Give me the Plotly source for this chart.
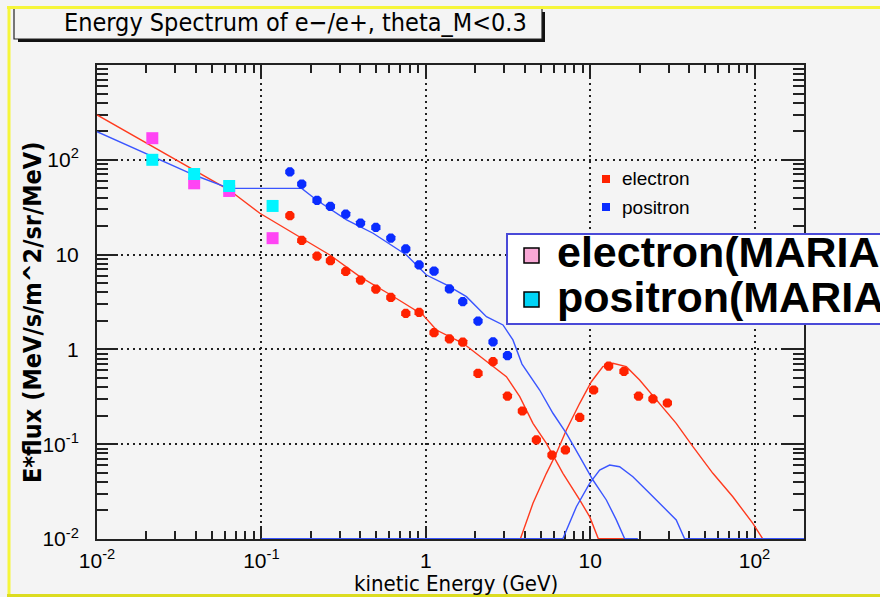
import math
import plotly.graph_objects as go

FLOOR = 0.0101  # curves that drop to zero are drawn along the bottom of the frame

# ---- measured points (kinetic energy in GeV, E*flux) ----
electron_E = [0.149, 0.176, 0.218, 0.263, 0.326, 0.401, 0.497, 0.613, 0.756, 0.911,
              1.123, 1.393, 1.679, 2.079, 2.566, 3.14, 3.87, 4.71, 5.86, 7.07,
              8.64, 10.5, 12.96, 16.06, 19.7, 24.1, 29.5]
electron_F = [25.7, 14.1, 9.62, 8.62, 6.66, 5.37, 4.32, 3.53, 2.40, 2.46,
              1.50, 1.29, 1.19, 0.560, 0.742, 0.322, 0.224, 0.111, 0.0769, 0.0869,
              0.192, 0.373, 0.668, 0.587, 0.322, 0.300, 0.272]

positron_E = [0.149, 0.176, 0.218, 0.263, 0.326, 0.401, 0.497, 0.613, 0.756, 0.911,
              1.123, 1.393, 1.679, 2.079, 2.566, 3.14]
positron_F = [74.7, 55.5, 37.4, 32.2, 26.7, 21.5, 19.4, 14.9, 11.5, 7.77,
              6.71, 4.34, 3.19, 1.99, 1.20, 0.862]

maria_E = [0.0217, 0.039, 0.0637, 0.117]
maria_electron = [169, 56.5, 46.9, 14.9]
maria_positron = [100, 70.8, 52.9, 32.6]

# ---- model curves ----
e_low_E = [0.01, 0.0637, 0.0979, 0.176, 0.261, 0.397, 0.613, 0.963, 1.161, 1.686,
           2.566, 3.095, 3.73, 4.49, 5.42, 6.83, 8.64, 9.93, 11.2, 16.2]
e_low_F = [297, 48.0, 27.3, 14.96, 9.90, 5.85, 3.75, 2.31, 1.60, 1.16,
           0.657, 0.515, 0.317, 0.166, 0.102, 0.0493, 0.0258, 0.0172, FLOOR, FLOOR]

e_high_E = [3.77, 4.49, 5.42, 6.23, 7.17, 8.64, 10.17, 11.96, 13.76, 16.6,
            20.0, 25.3, 33.4, 42.2, 55.8, 73.8, 97.7, 112]
e_high_F = [FLOOR, 0.0238, 0.0493, 0.0802, 0.141, 0.270, 0.456, 0.657, 0.714, 0.657,
            0.476, 0.293, 0.166, 0.0941, 0.0493, 0.0279, 0.0146, FLOOR]

p_low_E = [0.01, 0.0217, 0.039, 0.0637, 0.176, 0.2166, 0.330, 0.478, 0.763, 1.01,
           1.336, 1.768, 2.339, 2.95, 3.39, 3.85, 4.93, 5.94, 7.17, 8.64,
           10.4, 12.55, 14.43, 16.2, 19.5]
p_low_F = [198, 108, 69.1, 50.0, 50.0, 37.7, 23.2, 16.8, 9.90, 6.09,
           4.78, 3.60, 2.21, 1.81, 1.26, 0.70, 0.373, 0.212, 0.130, 0.0738,
           0.0419, 0.0258, 0.0159, FLOOR, FLOOR]

p_high_E = [0.1, 6.83, 8.25, 9.93, 11.42, 13.14, 15.11, 18.2, 21.96, 27.7, 33.4, 37.5, 200]
p_high_F = [FLOOR, FLOOR, 0.0219, 0.0387, 0.0534, 0.0603, 0.0579, 0.0454, 0.0329,
            0.0219, 0.0159, FLOOR, FLOOR]

# ---- axis ticks ----
major_vals = [0.01, 0.1, 1, 10, 100]
major_text = ["10<sup>-2</sup>", "10<sup>-1</sup>", "1", "10", "10<sup>2</sup>"]
x_minor = [k * 10.0 ** e for e in range(-2, 2) for k in range(2, 10)]
y_minor = [k * 10.0 ** e for e in range(-2, 3) for k in range(2, 10)]

RED_M, BLUE_M = "#ff2200", "#0a2cff"
RED_L, BLUE_L = "#ff3a1e", "#3a55ff"
AX = "#222222"
BG = "#f4f4f4"
NARROW = "Liberation Sans Narrow, DejaVu Sans Condensed, Liberation Sans, sans-serif"
SANS = "Liberation Sans, Arial, sans-serif"

W, H = 880, 597
L, R, T, B = 97, 804, 65, 539


def fx(p):
    return (p - L) / (R - L)


def fy(p):
    return (B - p) / (B - T)


fig = go.Figure()
for xs, ys, c in [(e_low_E, e_low_F, RED_L), (e_high_E, e_high_F, RED_L),
                  (p_low_E, p_low_F, BLUE_L), (p_high_E, p_high_F, BLUE_L)]:
    fig.add_trace(go.Scatter(x=xs, y=ys, mode="lines", line=dict(color=c, width=1.4),
                             showlegend=False, hoverinfo="skip"))

fig.add_trace(go.Scatter(x=maria_E, y=maria_electron, mode="markers",
                         marker=dict(symbol="square", size=12, color="#ff44f4"),
                         showlegend=False))
fig.add_trace(go.Scatter(x=maria_E, y=maria_positron, mode="markers",
                         marker=dict(symbol="square", size=12, color="#00f4ff"),
                         showlegend=False))
fig.add_trace(go.Scatter(x=electron_E, y=electron_F, mode="markers",
                         marker=dict(symbol="octagon", size=10, color=RED_M),
                         showlegend=False))
fig.add_trace(go.Scatter(x=positron_E, y=positron_F, mode="markers",
                         marker=dict(symbol="octagon", size=10, color=BLUE_M),
                         showlegend=False))

axis_common = dict(
    type="log", tickvals=major_vals, ticktext=major_text, ticks="inside",
    tickwidth=1.5, tickcolor=AX, showgrid=True, gridcolor=AX, griddash="2px,4px",
    gridwidth=1.5, showline=True, linecolor=AX, linewidth=2, mirror="ticks",
    layer="below traces", zeroline=False,
    tickfont=dict(family=SANS, size=21, color="black"),
)

fig.update_xaxes(**axis_common, range=[-2, math.log10(200)], ticklen=13,
                 ticklabelstandoff=2,
                 minor=dict(tickvals=x_minor, ticks="inside", ticklen=8, tickwidth=1.5,
                            tickcolor=AX, showgrid=False))
fig.update_yaxes(**axis_common, range=[-2, 3], ticklen=21, ticklabelstandoff=12,
                 minor=dict(tickvals=y_minor, ticks="inside", ticklen=11, tickwidth=1.5,
                            tickcolor=AX, showgrid=False))

shapes = []
# title box with drop shadow
shapes.append(dict(type="rect", xref="paper", yref="paper", x0=fx(18), x1=fx(545),
                   y0=fy(42), y1=fy(12), fillcolor="#111111", line=dict(width=0)))
shapes.append(dict(type="rect", xref="paper", yref="paper", x0=fx(14), x1=fx(542),
                   y0=fy(39), y1=fy(8), fillcolor=BG, line=dict(color=AX, width=1.2)))
# small legend glyphs
for yy, c in [(179, RED_M), (207, BLUE_M)]:
    shapes.append(dict(type="rect", xref="paper", yref="paper", x0=fx(602), x1=fx(610),
                       y0=fy(yy + 4), y1=fy(yy - 4), fillcolor=c, line=dict(width=0)))
# big legend box
shapes.append(dict(type="rect", xref="paper", yref="paper", x0=fx(507), x1=fx(900),
                   y0=fy(324), y1=fy(234), fillcolor="white",
                   line=dict(color="#4a4ad8", width=2)))
shapes.append(dict(type="rect", xref="paper", yref="paper", x0=fx(524), x1=fx(539),
                   y0=fy(263), y1=fy(248), fillcolor="#f9a8d6",
                   line=dict(color="black", width=1.5)))
shapes.append(dict(type="rect", xref="paper", yref="paper", x0=fx(524), x1=fx(539),
                   y0=fy(307), y1=fy(292), fillcolor="#00d4f6",
                   line=dict(color="black", width=1.5)))
# yellow frame
YEL = "#f6f63a"
shapes.append(dict(type="line", xref="paper", yref="paper", x0=fx(7), x1=fx(885),
                   y0=fy(7.5), y1=fy(7.5), line=dict(color=YEL, width=3)))
shapes.append(dict(type="line", xref="paper", yref="paper", x0=fx(9), x1=fx(9),
                   y0=fy(6), y1=fy(596), line=dict(color=YEL, width=3)))
shapes.append(dict(type="line", xref="paper", yref="paper", x0=fx(7), x1=fx(885),
                   y0=fy(595.5), y1=fy(595.5), line=dict(color="#dcdc20", width=3)))

annotations = [
    dict(text="Energy Spectrum of e\u2212/e+, theta_M<0.3", x=fx(295), y=fy(22),
         font=dict(family=NARROW, size=25, color="black")),
    dict(text="E*flux (MeV/s/m^2/sr/MeV)", x=fx(32), y=fy(313), textangle=-90,
         font=dict(family=NARROW, size=25, color="black", weight="bold")),
    dict(text="kinetic Energy (GeV)", x=fx(456), y=fy(583),
         font=dict(family=NARROW, size=22, color="black")),
    dict(text="electron", x=fx(620), y=fy(179), xanchor="left",
         font=dict(family=SANS, size=19, color="black")),
    dict(text="positron", x=fx(620), y=fy(207), xanchor="left",
         font=dict(family=SANS, size=19, color="black")),
    dict(text="electron(MARIA", x=fx(555), y=fy(252), xanchor="left",
         font=dict(family=SANS, size=43, color="black", weight="bold")),
    dict(text="positron(MARIA", x=fx(555), y=fy(297), xanchor="left",
         font=dict(family=SANS, size=43, color="black", weight="bold")),
]
for a in annotations:
    a.update(xref="paper", yref="paper", showarrow=False)
    a.setdefault("xanchor", "center")
    a.setdefault("yanchor", "middle")

fig.update_layout(
    width=W, height=H, margin=dict(l=L, r=W - R, t=T, b=H - B),
    paper_bgcolor=BG, plot_bgcolor=BG, showlegend=False,
    shapes=shapes, annotations=annotations,
)

fig.write_html("out.html", config={"displayModeBar": False},
               post_script="document.body.style.margin='0';document.body.style.padding='0';")
